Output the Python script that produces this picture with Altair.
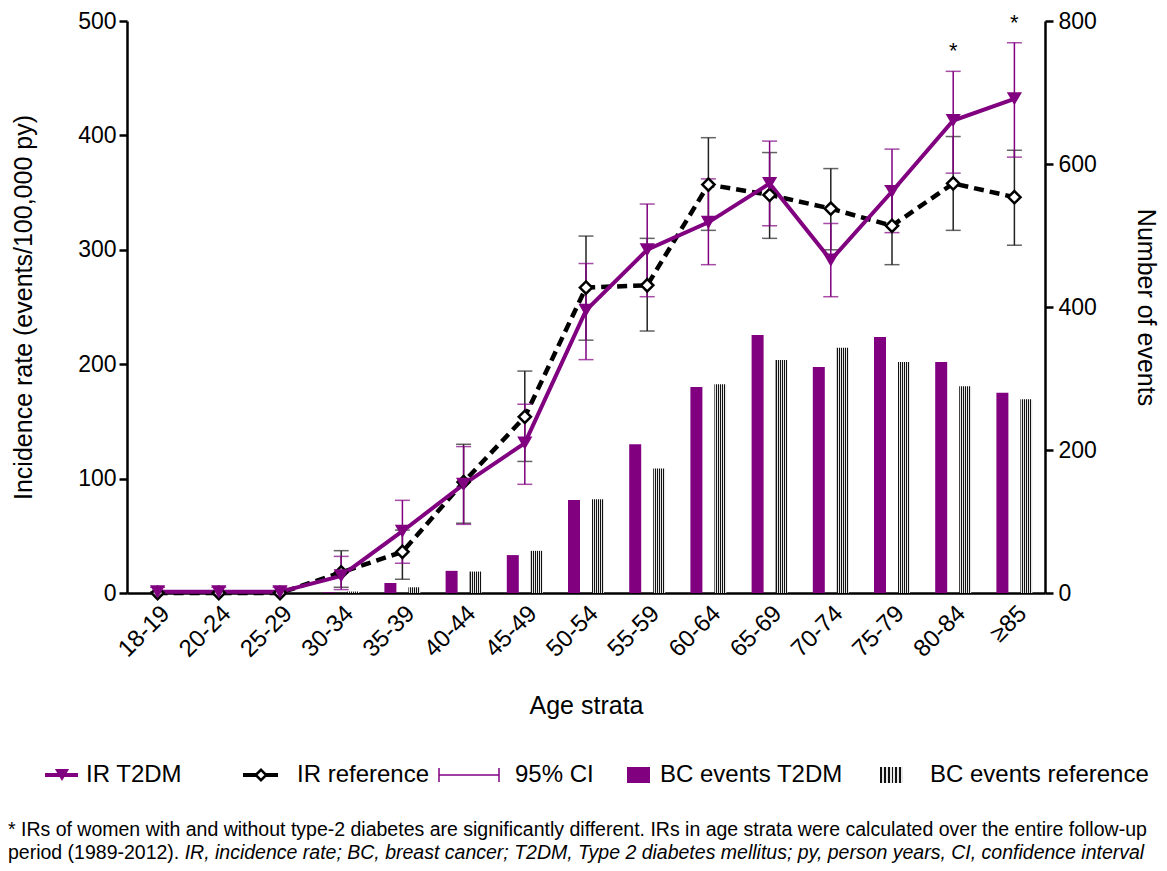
import altair as alt
import pandas as pd

# ---------------- data ----------------
cats = ["18-19", "20-24", "25-29", "30-34", "35-39", "40-44", "45-49", "50-54",
        "55-59", "60-64", "65-69", "70-74", "75-79", "80-84", "≥85"]
ir_t2dm = [1, 1, 1, 15, 54, 95, 131, 247, 300, 324, 358, 291, 351, 413, 432]
ir_ref = [0, 0, 0, 18, 36, 97, 154, 267, 269, 357, 348, 336, 321, 358, 346]
ci_t2dm_lo = [0, 0, 0, 3, 26, 60, 95, 204, 259, 287, 321, 259, 315, 367, 381]
ci_t2dm_hi = [5, 5, 5, 32, 81, 128, 165, 288, 340, 362, 395, 323, 388, 456, 481]
ci_ref_lo = [0, 0, 0, 5, 12, 61, 115, 221, 229, 317, 310, 300, 287, 317, 304]
ci_ref_hi = [1, 1, 1, 37, 55, 130, 194, 312, 310, 398, 385, 371, 356, 399, 387]
bc_t2dm = [0, 0, 0, 1, 14, 31, 53, 130, 208, 288, 361, 316, 358, 323, 280]
bc_ref = [0, 0, 0, 2, 8, 30, 59, 131, 174, 292, 326, 343, 323, 289, 271]
significant = [False] * 13 + [True, True]

legend_labels = ["IR T2DM", "IR reference", "95% CI", "BC events T2DM", "BC events reference"]
note_line1 = ("* IRs of women with and without type-2 diabetes are significantly different. "
              "IRs in age strata were calculated over the entire follow-up")
note_line2a = "period (1989-2012). "
note_line2b = ("IR, incidence rate; BC, breast cancer; T2DM, Type 2 diabetes mellitus; "
               "py, person years, CI, confidence interval")

df = pd.DataFrame({
    "age": cats, "ir_t": ir_t2dm, "ir_r": ir_ref,
    "ct_lo": ci_t2dm_lo, "ct_hi": ci_t2dm_hi,
    "cr_lo": ci_ref_lo, "cr_hi": ci_ref_hi,
    "bc_t": bc_t2dm, "bc_r": bc_ref, "sig": significant,
})

PURPLE = "#800080"
FONT = "Liberation Sans"

# checker-like texture for reference bars
stops = []
n = 12
for i in range(n):
    c = "#111111" if i % 2 == 0 else "#e8e8e8"
    stops.append(alt.GradientStop(offset=i / n, color=c))
    stops.append(alt.GradientStop(offset=(i + 1) / n, color=c))
texture = alt.LinearGradient(gradient="linear", stops=stops, x1=0, x2=1, y1=0, y2=0)

xscale = alt.Scale(domain=cats, paddingInner=0, paddingOuter=0)
x_axis = alt.X("age:N", sort=cats, scale=xscale,
               axis=alt.Axis(title="Age strata", labelAngle=-45, labelFontSize=24,
                             titleFontSize=25, ticks=False, labelPadding=8,
                             titleY=112, titleBaseline="middle"))

yL = alt.Scale(domain=[0, 500], nice=False)
yR = alt.Scale(domain=[0, 800], nice=False)


def yl(field):
    return alt.Y(field, scale=yL, axis=None)


base = alt.Chart(df)

# ---------------- bars (right axis) ----------------
bar_t = base.mark_bar(width=12, xOffset=-12, color=PURPLE).encode(
    x=x_axis,
    y=alt.Y("bc_t:Q", scale=yR,
            axis=alt.Axis(orient="right", values=[0, 200, 400, 600, 800],
                          title="Number of events", titleAngle=90, titleX=100,
                          titleBaseline="middle", titleFontSize=25, labelFontSize=23,
                          labelPadding=5, tickSize=8)))
bar_r = base.mark_bar(width=12, xOffset=12, fill=texture).encode(
    x=x_axis, y=alt.Y("bc_r:Q", scale=yR, axis=None))

# ---------------- incidence rates (left axis) ----------------
line_r = base.mark_line(color="black", strokeWidth=4.5, strokeDash=[10, 6]).encode(
    x=x_axis,
    y=alt.Y("ir_r:Q", scale=yL,
            axis=alt.Axis(orient="left", values=[0, 100, 200, 300, 400, 500],
                          title="Incidence rate (events/100,000 py)", titleX=-104,
                          titleBaseline="middle", titleFontSize=25, labelFontSize=23,
                          labelPadding=3, tickSize=8)))

ci_r = base.mark_rule(color="#222222", strokeWidth=1.5).encode(
    x=x_axis, y=yl("cr_lo:Q"), y2="cr_hi:Q")
ci_r_lo = base.mark_tick(color="#222222", size=15, thickness=1.5).encode(
    x=x_axis, y=yl("cr_lo:Q"))
ci_r_hi = base.mark_tick(color="#222222", size=15, thickness=1.5).encode(
    x=x_axis, y=yl("cr_hi:Q"))
ci_t = base.mark_rule(color=PURPLE, strokeWidth=1.5).encode(
    x=x_axis, y=yl("ct_lo:Q"), y2="ct_hi:Q")
ci_t_lo = base.mark_tick(color=PURPLE, size=15, thickness=1.5).encode(
    x=x_axis, y=yl("ct_lo:Q"))
ci_t_hi = base.mark_tick(color=PURPLE, size=15, thickness=1.5).encode(
    x=x_axis, y=yl("ct_hi:Q"))
line_t = base.mark_line(color=PURPLE, strokeWidth=4).encode(
    x=x_axis, y=yl("ir_t:Q"))
pts_r = base.mark_point(shape="diamond", filled=True, fill="white", stroke="black",
                        strokeWidth=2.5, size=150, opacity=1).encode(
    x=x_axis, y=yl("ir_r:Q"))
pts_t = base.mark_point(shape="triangle-down", filled=True, color=PURPLE,
                        size=230, opacity=1).encode(
    x=x_axis, y=yl("ir_t:Q"))
stars = base.transform_filter(alt.datum.sig).mark_text(
    text="*", fontSize=22, dy=-20, color="black", baseline="middle").encode(
    x=x_axis, y=yl("ct_hi:Q"))

# ---------------- custom legend & footnote ----------------
lb = alt.Chart(pd.DataFrame({"k": [0]}))
LY = 754
LFS = 24
NFS = 19.5
leg = [
    lb.mark_rule(color=PURPLE, strokeWidth=4).encode(
        x=alt.value(-82), x2=alt.value(-49), y=alt.value(LY)),
    lb.mark_point(shape="triangle-down", filled=True, color=PURPLE, size=200, opacity=1).encode(
        x=alt.value(-65), y=alt.value(LY)),
    lb.mark_text(align="left", baseline="middle", fontSize=LFS, text=legend_labels[0]).encode(
        x=alt.value(-41), y=alt.value(LY)),
    lb.mark_rule(color="black", strokeWidth=4).encode(
        x=alt.value(116), x2=alt.value(151), y=alt.value(LY)),
    lb.mark_point(shape="diamond", filled=True, fill="white", stroke="black",
                  strokeWidth=2.5, size=110, opacity=1).encode(
        x=alt.value(134), y=alt.value(LY)),
    lb.mark_text(align="left", baseline="middle", fontSize=LFS, text=legend_labels[1]).encode(
        x=alt.value(170), y=alt.value(LY)),
    lb.mark_rule(color=PURPLE, strokeWidth=1.5).encode(
        x=alt.value(312), x2=alt.value(372), y=alt.value(LY)),
    lb.mark_rule(color=PURPLE, strokeWidth=1.5).encode(
        x=alt.value(312), y=alt.value(LY - 7), y2=alt.value(LY + 7)),
    lb.mark_rule(color=PURPLE, strokeWidth=1.5).encode(
        x=alt.value(372), y=alt.value(LY - 7), y2=alt.value(LY + 7)),
    lb.mark_text(align="left", baseline="middle", fontSize=LFS, text=legend_labels[2]).encode(
        x=alt.value(388), y=alt.value(LY)),
    lb.mark_rect(color=PURPLE).encode(
        x=alt.value(500), x2=alt.value(523), y=alt.value(LY - 8), y2=alt.value(LY + 8)),
    lb.mark_text(align="left", baseline="middle", fontSize=LFS, text=legend_labels[3]).encode(
        x=alt.value(533), y=alt.value(LY)),
    lb.mark_rect(fill=texture).encode(
        x=alt.value(753), x2=alt.value(776), y=alt.value(LY - 8), y2=alt.value(LY + 8)),
    lb.mark_text(align="left", baseline="middle", fontSize=LFS, text=legend_labels[4]).encode(
        x=alt.value(803), y=alt.value(LY)),
    lb.mark_text(align="left", baseline="middle", fontSize=NFS, text=note_line1).encode(
        x=alt.value(-119), y=alt.value(809)),
    lb.mark_text(align="left", baseline="middle", fontSize=NFS, text=note_line2a).encode(
        x=alt.value(-119), y=alt.value(832)),
    lb.mark_text(align="left", baseline="middle", fontSize=NFS, fontStyle="italic",
                 text=note_line2b).encode(
        x=alt.value(-119 + 9.06 * NFS), y=alt.value(832)),
]

chart = alt.layer(
    bar_t, bar_r, line_r, ci_r, ci_r_lo, ci_r_hi, ci_t, ci_t_lo, ci_t_hi,
    line_t, pts_r, pts_t, stars, *leg
).resolve_scale(y="independent").properties(
    width=918, height=572,
    autosize=alt.AutoSizeParams(type="none"),
    padding={"left": 119, "top": 13, "right": 114, "bottom": 270},
).configure(font=FONT).configure_view(stroke=None).configure_axis(
    grid=False, domainColor="black", domainWidth=2.5, tickColor="black", tickWidth=2.5,
    labelColor="black", titleColor="black", titleFontWeight="normal", labelFont=FONT,
    titleFont=FONT,
).configure_text(font=FONT, color="black")

chart.save("out.html", embed_options={"renderer": "svg", "actions": False})
